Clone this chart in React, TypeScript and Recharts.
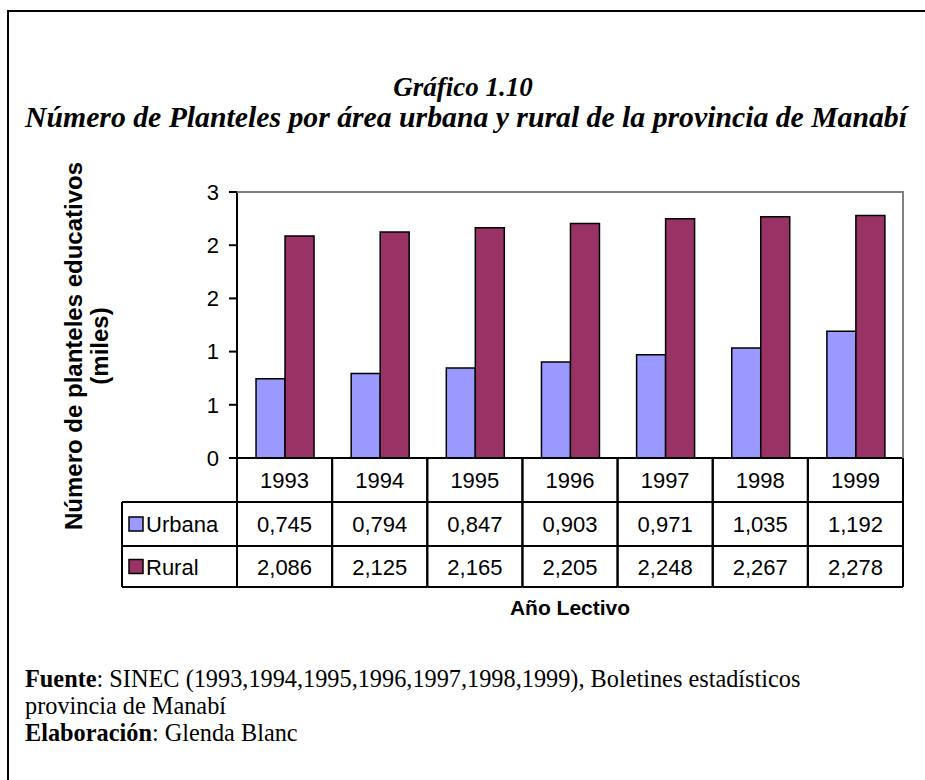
import React from 'react';
import { BarChart, Bar, XAxis, YAxis } from 'recharts';

const years = ['1993', '1994', '1995', '1996', '1997', '1998', '1999'];
const urbana = [0.745, 0.794, 0.847, 0.903, 0.971, 1.035, 1.192];
const rural = [2.086, 2.125, 2.165, 2.205, 2.248, 2.267, 2.278];
const urbanaLabels = ['0,745', '0,794', '0,847', '0,903', '0,971', '1,035', '1,192'];
const ruralLabels = ['2,086', '2,125', '2,165', '2,205', '2,248', '2,267', '2,278'];
const yTicks = [0, 0.5, 1, 1.5, 2, 2.5];
const seriesNames = ['Urbana', 'Rural'];
const seriesColors = ['#9999FF', '#993366'];

const data = years.map((y, i) => ({ year: y, Urbana: urbana[i], Rural: rural[i] }));

const W = 925;
const H = 780;
const PLOT_LEFT = 237;
const PLOT_RIGHT = 903;
const PLOT_TOP = 192;
const PLOT_BOTTOM = 458;
const ROW1 = 502;
const ROW2 = 546;
const ROW3 = 587;
const TABLE_LEFT = 122;
const Y_AXIS_W = 80;
const X_AXIS_H = 130;

const SANS = '"Liberation Sans", Arial, sans-serif';
const SERIF = '"Liberation Serif", "Times New Roman", serif';

const TableTick = (props: any) => {
  const { x, payload } = props;
  const i = years.indexOf(payload.value);
  const bw = (PLOT_RIGHT - PLOT_LEFT) / years.length;
  const x0 = x - bw / 2;
  const x1 = x + bw / 2;
  return (
    <g>
      <line x1={x0} y1={PLOT_BOTTOM} x2={x0} y2={ROW3} stroke="#000" strokeWidth={2} />
      <line x1={x1} y1={PLOT_BOTTOM} x2={x1} y2={ROW3} stroke="#000" strokeWidth={2} />
      <line x1={x0} y1={ROW1} x2={x1} y2={ROW1} stroke="#000" strokeWidth={2} />
      <line x1={x0} y1={ROW2} x2={x1} y2={ROW2} stroke="#000" strokeWidth={2} />
      <line x1={x0} y1={ROW3} x2={x1} y2={ROW3} stroke="#000" strokeWidth={2} />
      <text x={x} y={(PLOT_BOTTOM + ROW1) / 2 + 8} textAnchor="middle" fontSize={22} fontFamily={SANS} fill="#000">
        {payload.value}
      </text>
      <text x={x} y={(ROW1 + ROW2) / 2 + 8} textAnchor="middle" fontSize={22} fontFamily={SANS} fill="#000">
        {urbanaLabels[i]}
      </text>
      <text x={x} y={(ROW2 + ROW3) / 2 + 8} textAnchor="middle" fontSize={22} fontFamily={SANS} fill="#000">
        {ruralLabels[i]}
      </text>
    </g>
  );
};

export default function App() {
  return (
    <div style={{ position: 'absolute', left: 0, top: 0, width: W, height: H, overflow: 'hidden', background: '#fff' }}>
      <BarChart
        width={W}
        height={H}
        data={data}
        margin={{ top: PLOT_TOP, right: W - PLOT_RIGHT, left: PLOT_LEFT - Y_AXIS_W, bottom: H - PLOT_BOTTOM - X_AXIS_H }}
        barCategoryGap="20%"
        barGap={0}
      >
        <XAxis
          dataKey="year"
          height={X_AXIS_H}
          axisLine={{ stroke: '#000', strokeWidth: 2 }}
          tickLine={false}
          tick={<TableTick />}
          interval={0}
        />
        <YAxis
          width={Y_AXIS_W}
          domain={[0, 2.5]}
          ticks={yTicks}
          tickFormatter={(v: number) => String(Math.round(v))}
          axisLine={{ stroke: '#000', strokeWidth: 2 }}
          tickLine={{ stroke: '#000', strokeWidth: 2 }}
          tickSize={8}
          tickMargin={10}
          tick={{ fill: '#000', fontSize: 22, fontFamily: SANS }}
          allowDataOverflow
        />
        <Bar dataKey="Urbana" fill={seriesColors[0]} stroke="#000" strokeWidth={1.5} isAnimationActive={false} />
        <Bar dataKey="Rural" fill={seriesColors[1]} stroke="#000" strokeWidth={1.5} isAnimationActive={false} />
      </BarChart>
      <svg width={W} height={H} style={{ position: 'absolute', left: 0, top: 0, pointerEvents: 'none' }}>
        <rect x={8} y={11} width={1000} height={1000} fill="none" stroke="#000" strokeWidth={2} />
        <polyline
          points={`${PLOT_LEFT},${PLOT_TOP} ${PLOT_RIGHT},${PLOT_TOP} ${PLOT_RIGHT},${PLOT_BOTTOM}`}
          fill="none"
          stroke="#808080"
          strokeWidth={2}
        />
        <text x={463} y={96} textAnchor="middle" fontSize={27} fontWeight="bold" fontStyle="italic" fontFamily={SERIF}>
          Gráfico 1.10
        </text>
        <text
          x={466}
          y={127}
          textAnchor="middle"
          fontSize={29}
          fontWeight="bold"
          fontStyle="italic"
          fontFamily={SERIF}
          textLength={882}
          lengthAdjust="spacingAndGlyphs"
        >
          Número de Planteles por área urbana y rural de la provincia de Manabí
        </text>
        <g transform="rotate(-90)">
          <text x={-346} y={82} textAnchor="middle" fontSize={24} fontWeight="bold" fontFamily={SANS}>
            Número de planteles educativos
          </text>
          <text x={-346} y={108} textAnchor="middle" fontSize={24} fontWeight="bold" fontFamily={SANS}>
            (miles)
          </text>
        </g>
        {/* legend column of data table */}
        <line x1={TABLE_LEFT} y1={ROW1} x2={PLOT_LEFT} y2={ROW1} stroke="#000" strokeWidth={2} />
        <line x1={TABLE_LEFT} y1={ROW2} x2={PLOT_LEFT} y2={ROW2} stroke="#000" strokeWidth={2} />
        <line x1={TABLE_LEFT} y1={ROW3} x2={PLOT_LEFT} y2={ROW3} stroke="#000" strokeWidth={2} />
        <line x1={TABLE_LEFT} y1={ROW1} x2={TABLE_LEFT} y2={ROW3} stroke="#000" strokeWidth={2} />
        {seriesNames.map((n, k) => {
          const top = k === 0 ? ROW1 : ROW2;
          const bot = k === 0 ? ROW2 : ROW3;
          const cy = (top + bot) / 2;
          return (
            <g key={n}>
              <rect x={129} y={cy - 7} width={14} height={14} fill={seriesColors[k]} stroke="#000" strokeWidth={1.5} />
              <text x={146} y={cy + 8} fontSize={22} fontFamily={SANS} fill="#000">
                {n}
              </text>
            </g>
          );
        })}
        <text x={570} y={615} textAnchor="middle" fontSize={21} fontWeight="bold" fontFamily={SANS}>
          Año Lectivo
        </text>
        <text x={25} y={687} fontSize={24.3} fontFamily={SERIF}>
          <tspan fontWeight="bold">Fuente</tspan>
          <tspan>: SINEC (1993,1994,1995,1996,1997,1998,1999), Boletines estadísticos</tspan>
        </text>
        <text x={25} y={714} fontSize={24.3} fontFamily={SERIF}>
          provincia de Manabí
        </text>
        <text x={25} y={741} fontSize={24.3} fontFamily={SERIF}>
          <tspan fontWeight="bold">Elaboración</tspan>
          <tspan>: Glenda Blanc</tspan>
        </text>
      </svg>
    </div>
  );
}
